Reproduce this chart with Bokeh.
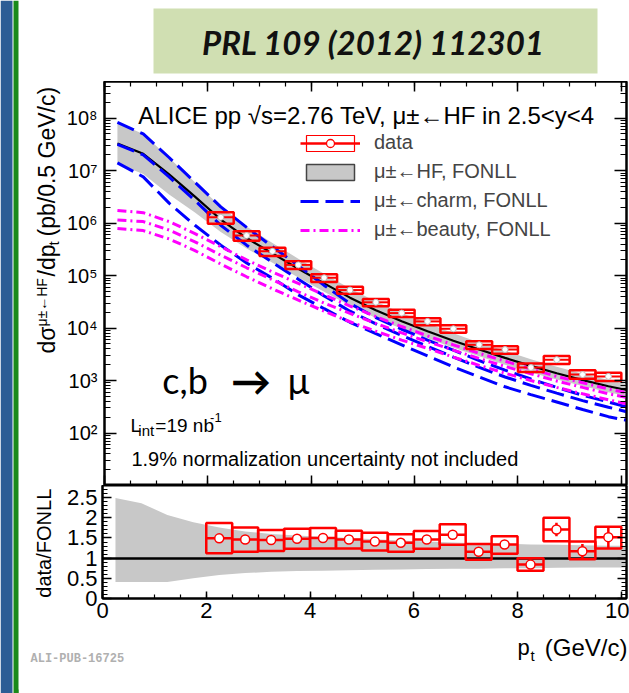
import numpy as np
from bokeh.plotting import figure
from bokeh.layouts import row, column
from bokeh.models import (Range1d, LinearAxis, LogAxis, FixedTicker, SingleIntervalTicker,
                          CustomJSTickFormatter, Label, Legend, LegendItem, ColumnDataSource)
from bokeh.embed import file_html
from bokeh.resources import INLINE

# ---------------- data ----------------
pt_curve = [0.25, 0.75, 1.25, 1.75, 2.25, 2.75, 3.25, 3.75, 4.25, 4.75, 5.25,
            5.75, 6.25, 6.75, 7.25, 7.75, 8.25, 8.75, 9.25, 9.75, 10.1]

hf_central = [3.3e7, 2.1e7, 8.5e6, 3.2e6, 1.17e6, 5.2e5, 2.65e5, 1.35e5, 7.1e4, 3.8e4, 2.19e4,
              1.35e4, 8.7e3, 5.75e3, 3.9e3, 2.7e3, 1.9e3, 1.38e3, 1.02e3, 780, 660]
hf_upper = [8.2e7, 5.0e7, 1.76e7, 6.0e6, 2.06e6, 8.6e5, 4.2e5, 2.1e5, 1.09e5, 5.7e4, 3.2e4,
            1.94e4, 1.23e4, 8.0e3, 5.3e3, 3.7e3, 2.55e3, 1.84e3, 1.35e3, 1.02e3, 860]
hf_lower = [1.35e7, 8.6e6, 3.5e6, 1.6e6, 6.8e5, 3.3e5, 1.75e5, 9.2e4, 4.9e4, 2.66e4, 1.55e4,
            9.7e3, 6.4e3, 4.2e3, 2.9e3, 2.0e3, 1.43e3, 1.05e3, 790, 600, 510]

charm_central = [3.16e7, 2.0e7, 7.6e6, 2.7e6, 9.1e5, 3.8e5, 1.78e5, 8.5e4, 4.1e4, 2.1e4, 1.2e4,
                 7.2e3, 4.5e3, 2.8e3, 1.78e3, 1.17e3, 810, 575, 415, 310, 255]
charm_upper = [8.3e7, 5.0e7, 1.78e7, 6.0e6, 2.04e6, 8.3e5, 3.55e5, 1.55e5, 6.5e4, 2.95e4, 1.58e4,
               9.5e3, 5.9e3, 3.8e3, 2.4e3, 1.58e3, 1.07e3, 740, 525, 390, 315]
charm_lower = [1.41e7, 7.6e6, 2.4e6, 9.1e5, 3.8e5, 1.74e5, 8.9e4, 4.3e4, 2.34e4, 1.29e4, 7.8e3,
               4.8e3, 2.95e3, 1.82e3, 1.17e3, 760, 540, 390, 280, 205, 175]

beauty_central = [1.15e6, 1.07e6, 7.4e5, 4.4e5, 2.45e5, 1.41e5, 8.3e4, 4.9e4, 3.0e4, 1.9e4, 1.23e4,
                  8.1e3, 5.5e3, 3.8e3, 2.63e3, 1.86e3, 1.35e3, 980, 740, 560, 480]
beauty_upper = [1.74e6, 1.58e6, 1.07e6, 6.3e5, 3.55e5, 2.0e5, 1.17e5, 7.1e4, 4.3e4, 2.63e4, 1.66e4,
                1.07e4, 7.1e3, 4.8e3, 3.3e3, 2.35e3, 1.66e3, 1.2e3, 910, 690, 590]
beauty_lower = [7.9e5, 7.2e5, 5.0e5, 3.0e5, 1.66e5, 9.5e4, 5.6e4, 3.4e4, 2.1e4, 1.32e4, 8.7e3,
                5.9e3, 4.1e3, 2.8e3, 1.95e3, 1.38e3, 1.0e3, 740, 560, 430, 360]

ratio_band_upper = [2.49, 2.36, 2.07, 1.89, 1.76, 1.66, 1.60, 1.56, 1.53, 1.50, 1.47,
                    1.44, 1.41, 1.39, 1.37, 1.36, 1.34, 1.33, 1.32, 1.31, 1.31]
ratio_band_lower = [0.41, 0.41, 0.41, 0.50, 0.58, 0.63, 0.66, 0.68, 0.69, 0.70, 0.71,
                    0.72, 0.73, 0.735, 0.74, 0.75, 0.75, 0.76, 0.77, 0.77, 0.77]

data_pt = [2.25, 2.75, 3.25, 3.75, 4.25, 4.75, 5.25, 5.75, 6.25, 6.75, 7.25, 7.75, 8.25, 8.75, 9.25, 9.75]
data_val = [1.29e6, 5.8e5, 2.9e5, 1.6e5, 9.1e4, 5.3e4, 3.1e4, 1.93e4, 1.34e4, 9.7e3,
            4.8e3, 3.9e3, 1.77e3, 2.5e3, 1.3e3, 1.2e3]
ratio_val = [1.49, 1.46, 1.45, 1.48, 1.50, 1.46, 1.41, 1.38, 1.46, 1.58, 1.16, 1.34, 0.84, 1.71, 1.17, 1.52]
ratio_sys_hi = [1.87, 1.76, 1.70, 1.73, 1.75, 1.68, 1.63, 1.59, 1.67, 1.84, 1.35, 1.54, 1.00, 2.00, 1.41, 1.78]
ratio_sys_lo = [1.12, 1.16, 1.18, 1.23, 1.24, 1.24, 1.19, 1.16, 1.23, 1.33, 0.96, 1.11, 0.69, 1.42, 0.97, 1.24]
ratio_stat = [0.02, 0.02, 0.02, 0.02, 0.02, 0.02, 0.02, 0.03, 0.04, 0.08, 0.09, 0.11, 0.08, 0.17, 0.18, 0.27]
bin_halfwidth = 0.25

x_ticks_major = 2
y_log_major = [1e2, 1e3, 1e4, 1e5, 1e6, 1e7, 1e8]

# ---------------- geometry / style ----------------
FONT = "Liberation Sans"
RED, BLUE, MAGENTA, GREY = "#ff0000", "#0000ff", "#ff00ff", "#c8c8c8"
X_MAX = 10.1
Y_MIN, Y_MAX = 10, 5e8
R_MAX = 2.8
FRAME_L, FRAME_R = 102, 626
TOP_T, TOP_B, BOT_B = 81, 485, 598
PX_PER_PT = (FRAME_R - FRAME_L) / X_MAX
LOG_TOP, LOG_BOT = np.log10(Y_MAX), np.log10(Y_MIN)
PX_PER_DEC = (TOP_B - TOP_T) / (LOG_TOP - LOG_BOT)
NAN = float("nan")
PAGE_X0 = 19          # left edge of the plot column (after the strip)
YT_W = 44             # width of the y-title columns
XAX_H = 26            # height of the bottom x-axis label band
FOOT_B = 689
ROT_SHIFT = 0.35      # rotated labels: anchor offset (in em) observed in the renderer


def ty(sy):
    return 10 ** (LOG_TOP - (sy - TOP_T) / PX_PER_DEC)


def tx(sx):
    return (sx - FRAME_L) / PX_PER_PT


def style_axis(ax, major, minor, labels=True, size="20px", standoff=6):
    ax.major_tick_in = major
    ax.major_tick_out = 0
    ax.minor_tick_in = minor
    ax.minor_tick_out = 0
    ax.axis_line_width = 2
    ax.axis_line_color = "black"
    ax.major_tick_line_width = 1.5
    ax.minor_tick_line_width = 1.2
    if labels:
        ax.major_label_text_font = FONT
        ax.major_label_text_font_size = size
        ax.major_label_text_color = "black"
        ax.major_label_standoff = standoff
    else:
        ax.major_label_text_font_size = "1px"
        ax.major_label_text_color = None
        ax.major_label_standoff = 0


def add_label(p, x, y, text, size, font=FONT, align="left", baseline="alphabetic",
              angle=0.0, style="normal", color="black", **kw):
    p.add_layout(Label(x=x, y=y, text=text, text_font=font, text_font_size=size,
                       text_align=align, text_baseline=baseline, angle=angle,
                       text_font_style=style, text_color=color, **kw))


def add_vlabel(p, xbase, y, text, size_px, align="left"):
    """Text reading bottom-to-top whose baseline lies at page x = xbase."""
    add_label(p, xbase - ROT_SHIFT * size_px, y, text, f"{size_px}px", angle=np.pi / 2, align=align)


def page_fig(x0, x1, y0, y1):
    """Bare figure whose data coordinates are page pixels (x0..x1, y0..y1 top->bottom)."""
    f = figure(width=x1 - x0, height=y1 - y0, x_range=Range1d(x0, x1), y_range=Range1d(y1, y0),
               x_axis_location=None, y_axis_location=None, output_backend="svg",
               toolbar_location=None, min_border=0)
    f.grid.visible = False
    f.outline_line_color = None
    return f


log_fmt = CustomJSTickFormatter(code="""
const sup = {'0':'\u2070','1':'\u00b9','2':'\u00b2','3':'\u00b3','4':'\u2074','5':'\u2075',
             '6':'\u2076','7':'\u2077','8':'\u2078','9':'\u2079','-':'\u207b'};
const e = Math.round(Math.log10(tick));
return '10' + String(e).split('').map(c => sup[c]).join('');
""")
lin_fmt = CustomJSTickFormatter(code="return String(Math.round(tick*10)/10);")

minor_log = [m * 10 ** e for e in range(1, 9) for m in range(2, 10)]

# ---------------- header ----------------
header = page_fig(PAGE_X0, 629, 0, TOP_T)
header.quad(left=[153], right=[597], top=[8], bottom=[73], fill_color="#d0dfb2", line_color=None)
add_label(header, 373, 41, "PRL 109 (2012) 112301", "33px", font="Lato",
          align="center", baseline="middle", style="bold italic", color="#111111")

# ---------------- top panel ----------------
top = figure(width=629 - PAGE_X0 - YT_W, height=TOP_B - TOP_T,
             x_range=Range1d(0, X_MAX), y_range=Range1d(Y_MIN, Y_MAX),
             y_axis_type="log", x_axis_location=None, y_axis_location=None,
             output_backend="svg", toolbar_location=None,
             min_border_left=FRAME_L - PAGE_X0 - YT_W, min_border_right=629 - FRAME_R,
             min_border_top=0, min_border_bottom=0)
top.grid.visible = False
top.outline_line_color = "black"
top.outline_line_width = 2

ax = LogAxis(ticker=FixedTicker(ticks=y_log_major, minor_ticks=minor_log), formatter=log_fmt)
style_axis(ax, 12, 6, True, "20px", 7)
top.add_layout(ax, "left")
ax = LogAxis(ticker=FixedTicker(ticks=y_log_major, minor_ticks=minor_log))
style_axis(ax, 12, 6, False)
top.add_layout(ax, "right")
ax = LinearAxis(ticker=SingleIntervalTicker(interval=x_ticks_major, num_minor_ticks=4))
style_axis(ax, 10, 5, False)
top.add_layout(ax, "below")
ax = LinearAxis(ticker=SingleIntervalTicker(interval=x_ticks_major, num_minor_ticks=4))
style_axis(ax, 10, 5, False)
top.add_layout(ax, "above")

curve_src = ColumnDataSource(dict(pt=pt_curve, hf_c=hf_central, hf_u=hf_upper, hf_l=hf_lower,
                                  c_c=charm_central, c_u=charm_upper, c_l=charm_lower,
                                  b_c=beauty_central, b_u=beauty_upper, b_l=beauty_lower))
top.varea(x="pt", y1="hf_l", y2="hf_u", source=curve_src, fill_color=GREY)
top.line("pt", "hf_c", source=curve_src, line_color="black", line_width=2.2)
CDASH = "18 7"
BDASH = "9 4 2 4"
charm_r = None
for col in ["c_u", "c_c", "c_l"]:
    r = top.line("pt", col, source=curve_src, line_color=BLUE, line_width=3, line_dash=CDASH)
    charm_r = charm_r or r
beauty_r = None
for col in ["b_u", "b_c", "b_l"]:
    r = top.line("pt", col, source=curve_src, line_color=MAGENTA, line_width=3, line_dash=BDASH)
    beauty_r = beauty_r or r

pt = np.array(data_pt)
dv = np.array(data_val)
rv = np.array(ratio_val)
top_src = ColumnDataSource(dict(x=pt, left=pt - bin_halfwidth, right=pt + bin_halfwidth, y=dv,
                                lo=dv * np.array(ratio_sys_lo) / rv, hi=dv * np.array(ratio_sys_hi) / rv))
top.quad(left="left", right="right", bottom="lo", top="hi", source=top_src,
         fill_color=None, line_color=RED, line_width=2.5)
top.segment(x0="left", x1="right", y0="y", y1="y", source=top_src, line_color=RED, line_width=2)
top.scatter("x", "y", source=top_src, size=6, fill_color="white", line_color="#bbbbbb", line_width=1)

# legend-only glyphs (nothing drawn in the plot)
leg_box = top.quad(left=[NAN], right=[NAN], top=[NAN], bottom=[NAN], fill_color=None,
                   line_color=RED, line_width=1.2)
leg_seg = top.segment(x0=[NAN], x1=[NAN], y0=[NAN], y1=[NAN], line_color=RED, line_width=2.5)
leg_dot = top.scatter(x=[NAN], y=[NAN], size=7, fill_color="white", line_color=RED, line_width=1.3)
leg_hf = top.quad(left=[NAN], right=[NAN], top=[NAN], bottom=[NAN], fill_color=GREY,
                  line_color="#444444", line_width=1.5)

legend = Legend(items=[LegendItem(label="data", renderers=[leg_box, leg_seg, leg_dot]),
                       LegendItem(label="μ±←HF, FONLL", renderers=[leg_hf]),
                       LegendItem(label="μ±←charm, FONLL", renderers=[charm_r]),
                       LegendItem(label="μ±←beauty, FONLL", renderers=[beauty_r])],
                location=(196, 244), padding=0, margin=0, spacing=6,
                glyph_width=60, glyph_height=20, label_standoff=14, label_height=20,
                label_text_font=FONT, label_text_font_size="20px",
                border_line_color=None, background_fill_alpha=0)
top.add_layout(legend)

add_label(top, tx(136), ty(115), "ALICE pp √s=2.76 TeV, μ±←HF in 2.5<y<4", "24px")
add_label(top, tx(160), ty(379), "c,b", "36px", font="Lato")
add_label(top, tx(229), ty(380), "→", "40px", font="Lato", style="bold")
add_label(top, tx(286), ty(379), "μ", "36px", font="Lato")
add_label(top, tx(128), ty(425), "L", "19px")
add_label(top, tx(136), ty(430), "int", "15px")
add_label(top, tx(153), ty(425), "=19 nb", "19px")
add_label(top, tx(208), ty(417), "-1", "13px")
add_label(top, tx(129), ty(458), "1.9% normalization uncertainty not included", "20px")

# rotated y title of the top panel (page-pixel coordinates)
ytop = page_fig(PAGE_X0, PAGE_X0 + YT_W, TOP_T, TOP_B)
add_vlabel(ytop, 55, 353, "dσ", 23)
add_vlabel(ytop, 46, 326, "μ±←HF", 14)
add_vlabel(ytop, 55, 276, "/dp", 23)
add_vlabel(ytop, 58, 245, "t", 15)
add_vlabel(ytop, 55, 236, "(pb/0.5 GeV/c)", 23)

# ---------------- bottom panel ----------------
bot = figure(width=629 - PAGE_X0 - YT_W, height=BOT_B - TOP_B + XAX_H,
             x_range=top.x_range, y_range=Range1d(0, R_MAX),
             x_axis_location=None, y_axis_location=None,
             output_backend="svg", toolbar_location=None,
             min_border_left=FRAME_L - PAGE_X0 - YT_W, min_border_right=629 - FRAME_R,
             min_border_top=0, min_border_bottom=XAX_H)
bot.grid.visible = False
bot.outline_line_color = "black"
bot.outline_line_width = 2

ax = LinearAxis(ticker=SingleIntervalTicker(interval=0.5, num_minor_ticks=5), formatter=lin_fmt)
style_axis(ax, 9, 5, True, "22px", 5)
bot.add_layout(ax, "left")
ax = LinearAxis(ticker=SingleIntervalTicker(interval=0.5, num_minor_ticks=5))
style_axis(ax, 9, 5, False)
bot.add_layout(ax, "right")
ax = LinearAxis(ticker=SingleIntervalTicker(interval=x_ticks_major, num_minor_ticks=4), formatter=lin_fmt)
style_axis(ax, 7, 4, True, "22px", 4)
bot.add_layout(ax, "below")

bot.varea(x="pt", y1="lo", y2="hi", fill_color=GREY,
          source=ColumnDataSource(dict(pt=pt_curve, lo=ratio_band_lower, hi=ratio_band_upper)))
bot.hspan(y=[1.0], line_color="black", line_width=2.5)
rat_src = ColumnDataSource(dict(x=pt, left=pt - bin_halfwidth, right=pt + bin_halfwidth, y=rv,
                                lo=ratio_sys_lo, hi=ratio_sys_hi,
                                slo=rv - np.array(ratio_stat), shi=rv + np.array(ratio_stat)))
bot.quad(left="left", right="right", bottom="lo", top="hi", source=rat_src,
         fill_color=None, line_color=RED, line_width=2.5)
bot.segment(x0="left", x1="right", y0="y", y1="y", source=rat_src, line_color=RED, line_width=2.5)
bot.segment(x0="x", x1="x", y0="slo", y1="shi", source=rat_src, line_color=RED, line_width=2.5)
bot.scatter("x", "y", source=rat_src, size=9, fill_color="white", line_color=RED, line_width=1.5)

ybot = page_fig(PAGE_X0, PAGE_X0 + YT_W, TOP_B, BOT_B + XAX_H)
add_vlabel(ybot, 50, 556, "data/FONLL", 20, align="center")

# ---------------- footer ----------------
footer = page_fig(PAGE_X0, 629, BOT_B + XAX_H, FOOT_B)
add_label(footer, 517, 647, "p", "22px")
add_label(footer, 530, 655, "t", "15px")
add_label(footer, 627, 647, "(GeV/c)", "24px", align="right")
add_label(footer, 30, 658, "ALI-PUB-16725", "12px", font="Liberation Mono",
          style="bold", color="#b0b0b0")

# ---------------- page decorations ----------------
BLUE_STRIP, GREEN_LINE = "#2c5d95", "#1a8a1a"
strip = page_fig(0, PAGE_X0, 0, 693)
strip.quad(left=[0, 13, 18], right=[12, 18, 19], top=[0, 0, 689], bottom=[693, 693, 693],
           fill_color=[BLUE_STRIP, GREEN_LINE, GREEN_LINE], line_color=None)
gbar = page_fig(PAGE_X0, 629, FOOT_B, 693)
gbar.quad(left=[PAGE_X0], right=[629], top=[FOOT_B], bottom=[693], fill_color=GREEN_LINE, line_color=None)

layout = row(strip,
             column(header,
                    row(ytop, top, spacing=0),
                    row(ybot, bot, spacing=0),
                    footer, gbar, spacing=0),
             spacing=0)
open("out.html", "w").write(file_html(layout, INLINE))
